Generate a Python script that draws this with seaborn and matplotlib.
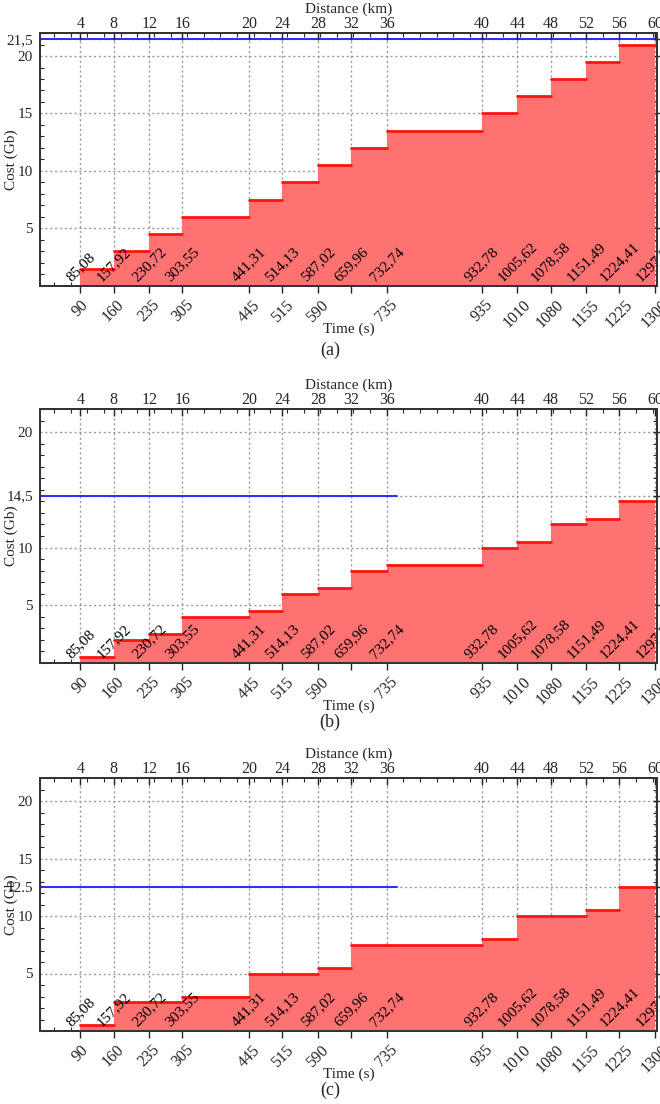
import numpy as np
import pandas as pd
import matplotlib
matplotlib.use("Agg")
import matplotlib.pyplot as plt
from matplotlib.ticker import FixedLocator, MultipleLocator
import seaborn as sns

# datos
times = [0, 90, 160, 235, 305, 445, 515, 590, 660, 735, 935, 1010, 1080, 1155, 1225, 1300]
tick_times = times[1:]
distance_km = [4, 8, 12, 16, 20, 24, 28, 32, 36, 40, 44, 48, 52, 56, 60]
time_labels = ['90', '160', '235', '305', '445', '515', '590', '', '735',
               '935', '1010', '1080', '1155', '1225', '1300']
inner_labels = ['85,08', '157,92', '230,72', '303,55', '441,31', '514,13', '587,02',
                '659,96', '732,74', '932,78', '1005,62', '1078,58', '1151,49',
                '1224,41', '1297,27']

cost_a = [0, 1.5, 3, 4.5, 6, 7.5, 9, 10.5, 12, 13.5, 15, 16.5, 18, 19.5, 21, 21.5]
cost_b = [0, 0.5, 2, 2.5, 4, 4.5, 6, 6.5, 8, 8.5, 10, 10.5, 12, 12.5, 14, 14.5]
cost_c = [0, 0.5, 2.5, 2.5, 3, 5, 5, 5.5, 7.5, 7.5, 8, 10, 10, 10.5, 12.5, 12.5]

limit_a = 21.5
limit_b = 14.5
limit_c = 12.5
limit_end_a = 1304
limit_end_b = 757
limit_end_c = 757

yticks_a = [5, 10, 15, 20, 21.5]
ylabels_a = ['5', '10', '15', '20', '21,5']
yticks_b = [5, 10, 14.5, 20]
ylabels_b = ['5', '10', '14,5', '20']
yticks_c = [5, 10, 12.5, 15, 20]
ylabels_c = ['5', '10', '12.5', '15', '20']

sns.set_style("white")
plt.rcParams['font.family'] = ['Liberation Serif', 'DejaVu Serif']

FS = 11
FS_TICK = 11.5
XMIN, XMAX = 5, 1304

fig = plt.figure(figsize=(6.6, 11.04), dpi=100)


def panel(rect, cost, limit, limit_end, yticks, ylabels, letter, letter_y):
    ax = fig.add_axes(rect)
    df = pd.DataFrame({'t': times, 'cost': cost})

    # tramos horizontales (solo el borde superior va en rojo fuerte)
    seg = pd.DataFrame({
        't': np.ravel(np.column_stack([times[:-1], times[1:]])),
        'cost': np.repeat(cost[:-1], 2),
        'seg': np.repeat(np.arange(len(times) - 1), 2),
    })

    ax.fill_between(df['t'], 0, df['cost'], step='post', color='#ff7272',
                    linewidth=0, zorder=2)
    sns.lineplot(data=seg, x='t', y='cost', units='seg', estimator=None,
                 color='#ff1414', linewidth=2.0, ax=ax, zorder=3)
    ax.plot([XMIN, limit_end], [limit, limit], color='#2a2aff', linewidth=1.4, zorder=4)

    # etiquetas inclinadas dentro del area
    for t, lab in zip(tick_times, inner_labels):
        ax.text(t, 0.2, lab, rotation=45, ha='center', va='bottom', fontsize=FS,
                color='black', zorder=5, clip_on=False)

    ax.set_xlim(XMIN, XMAX)
    ax.set_ylim(0, 22)

    ax.xaxis.set_major_locator(FixedLocator(tick_times))
    ax.set_xticklabels(time_labels, rotation=45, ha='center', fontsize=FS_TICK)
    ax.xaxis.set_minor_locator(MultipleLocator(35))
    ax.yaxis.set_major_locator(FixedLocator(yticks))
    ax.set_yticklabels(ylabels, fontsize=FS)
    ax.yaxis.set_minor_locator(MultipleLocator(1))

    ax.tick_params(axis='x', which='major', direction='out', length=5, width=1, pad=3)
    ax.tick_params(axis='x', which='minor', direction='in', length=3, width=0.8)
    ax.tick_params(axis='y', which='major', direction='inout', length=6, width=1,
                   right=True, pad=2)
    ax.tick_params(axis='y', which='minor', direction='in', length=3, width=0.8,
                   left=True, right=True)

    ax.grid(True, which='major', color='#9a9a9a', linestyle=(0, (1.5, 2)),
            linewidth=1.0, zorder=1)
    ax.set_axisbelow(True)
    for sp in ax.spines.values():
        sp.set_color('#333333')
        sp.set_linewidth(1.4)
        sp.set_zorder(6)

    ax.set_xlabel('Time (s)', fontsize=FS, labelpad=-6)
    ax.set_ylabel('Cost (Gb)', fontsize=FS)
    ax.yaxis.set_label_coords(-0.035, 0.5)

    top = ax.twiny()
    top.set_xlim(XMIN, XMAX)
    top.xaxis.set_major_locator(FixedLocator(tick_times))
    top.set_xticklabels([str(d) for d in distance_km], fontsize=FS_TICK)
    top.xaxis.set_minor_locator(MultipleLocator(35))
    top.tick_params(axis='x', which='major', direction='in', length=5, width=1, pad=1)
    top.tick_params(axis='x', which='minor', direction='in', length=3, width=0.8)
    top.set_xlabel('Distance (km)', fontsize=FS, labelpad=2)
    for sp in top.spines.values():
        sp.set_color('#333333')
        sp.set_linewidth(1.4)

    fig.text(0.5, letter_y, letter, ha='center', va='center', fontsize=13)
    return ax


left = 40 / 660
width = 617 / 660
panel([left, 1 - 286 / 1104, width, 253 / 1104], cost_a, limit_a, limit_end_a,
      yticks_a, ylabels_a, '(a)', 1 - 350 / 1104)
panel([left, 1 - 663 / 1104, width, 254 / 1104], cost_b, limit_b, limit_end_b,
      yticks_b, ylabels_b, '(b)', 1 - 722 / 1104)
panel([left, 1 - 1031 / 1104, width, 253 / 1104], cost_c, limit_c, limit_end_c,
      yticks_c, ylabels_c, '(c)', 1 - 1090 / 1104)

fig.savefig('out.png', dpi=100)
